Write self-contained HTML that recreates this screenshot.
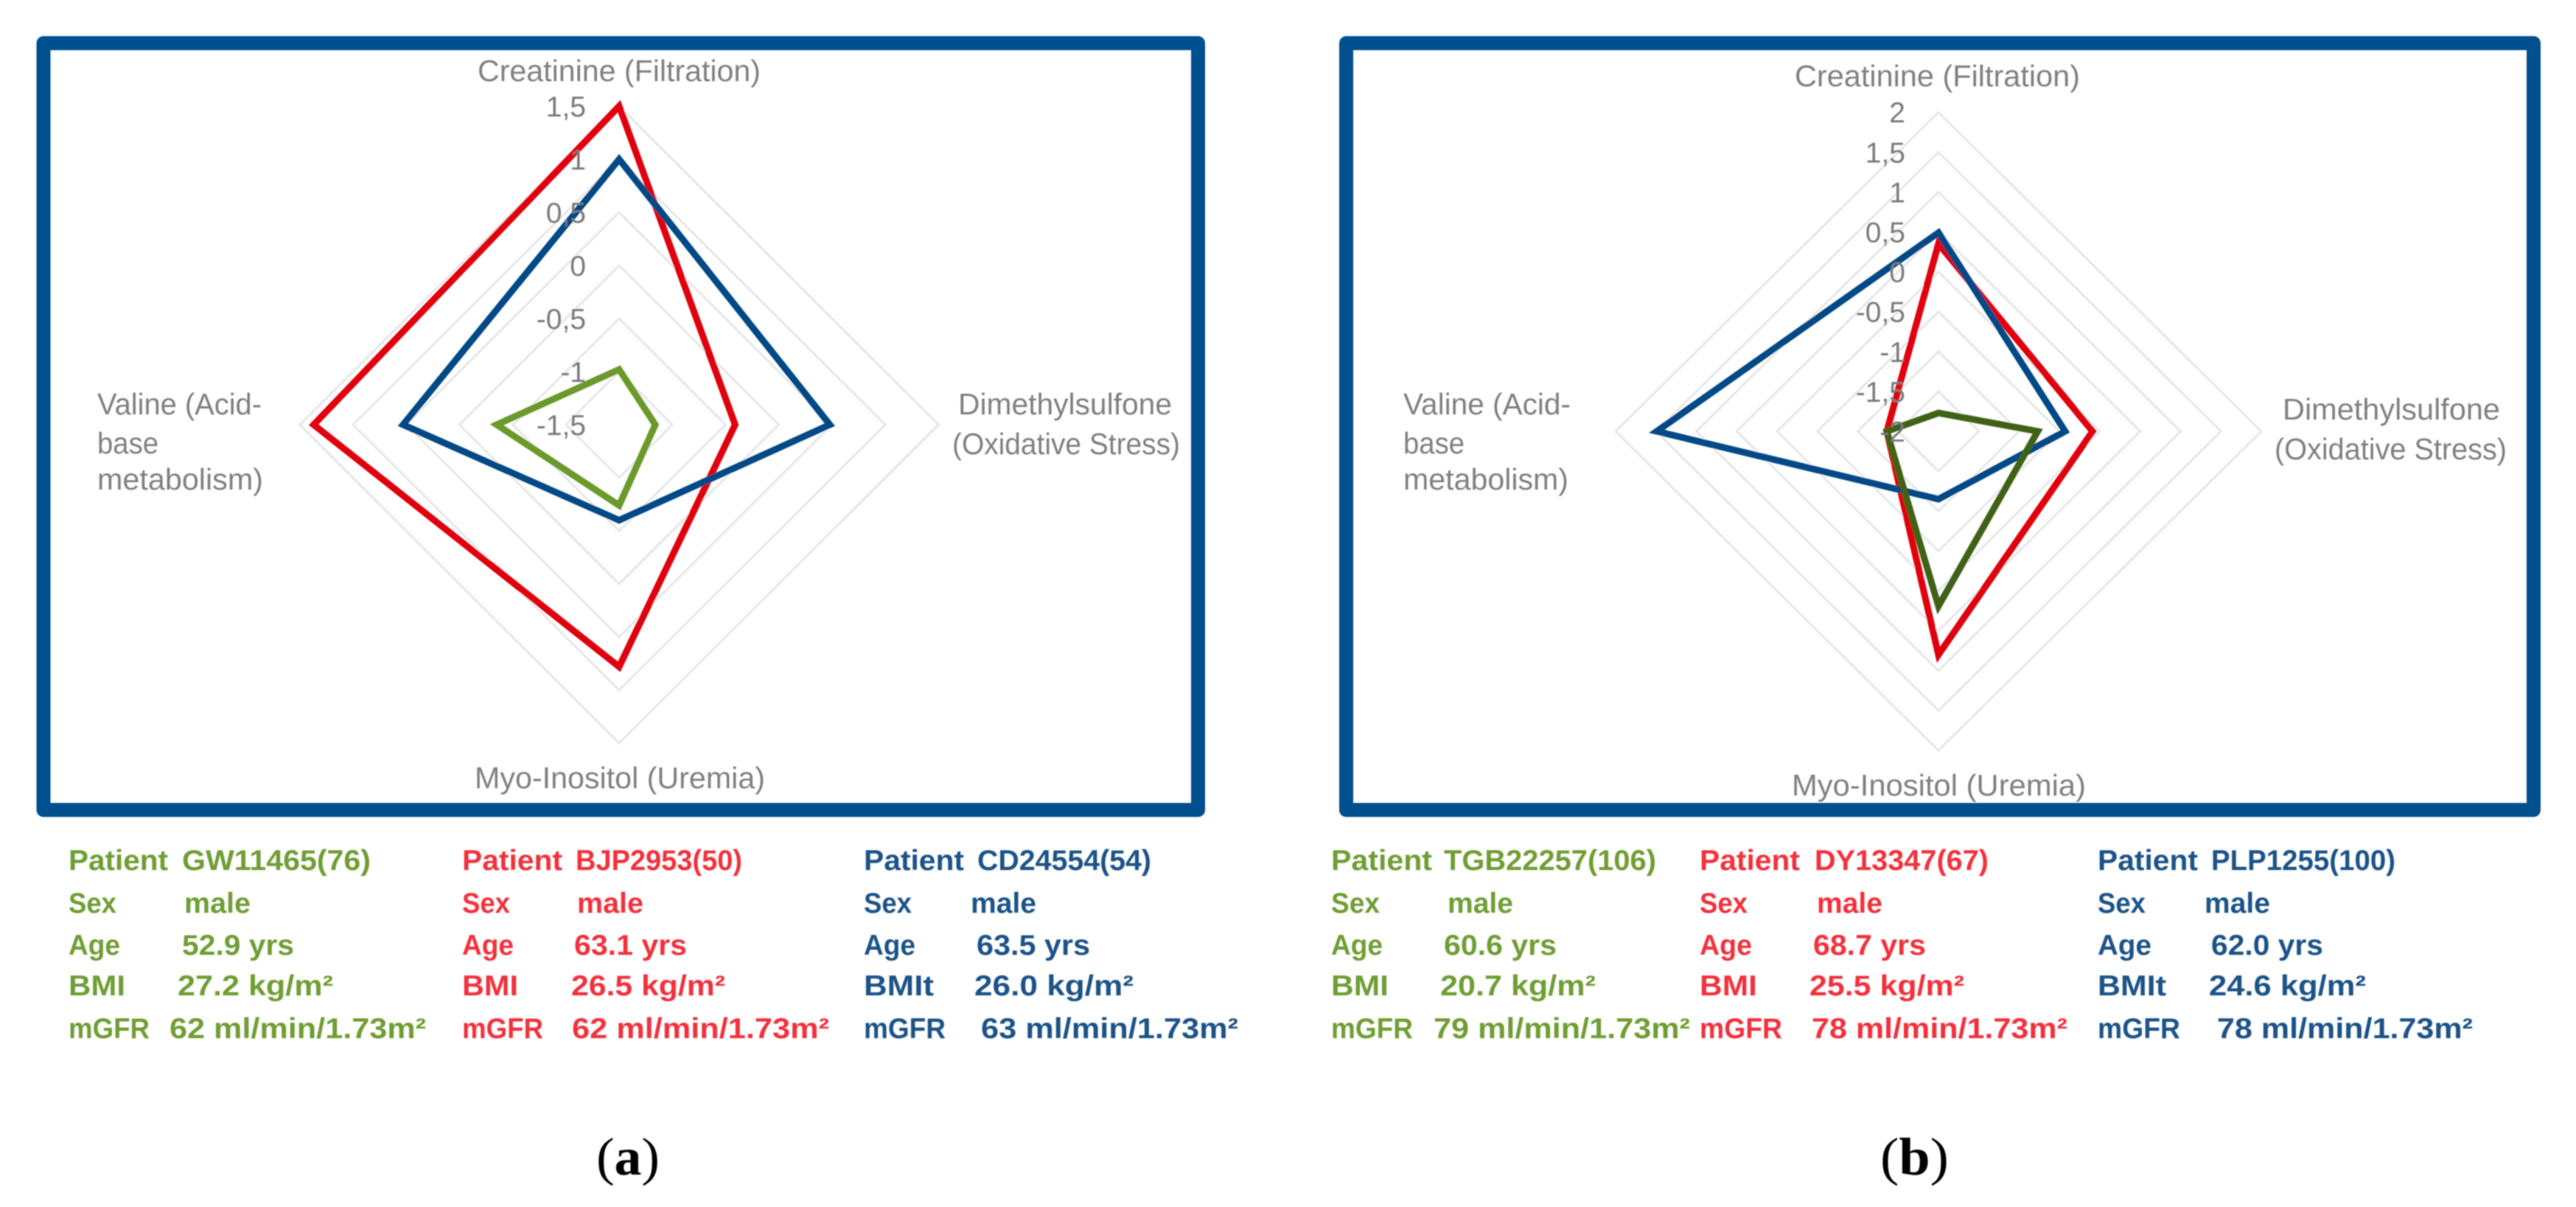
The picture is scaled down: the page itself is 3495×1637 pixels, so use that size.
<!DOCTYPE html>
<html lang="en">
<head>
<meta charset="utf-8">
<title>Radar charts of patient metabolite profiles</title>
<style>
html,body{margin:0;padding:0;background:#fff;width:3495px;height:1637px;overflow:hidden}
svg{display:block}
text{font-family:"Liberation Sans",sans-serif}
.ax{font-size:41px;fill:#808080}
.pt{font-size:39px;font-weight:700}
.g{fill:#6f9e34}.r{fill:#f2303c}.b{fill:#1c5288}
.cap{font-family:"Liberation Serif",serif;font-size:72px;fill:#000}
.cap tspan{font-family:"Liberation Serif",serif}
</style>
</head>
<body>
<svg id="fig" xmlns="http://www.w3.org/2000/svg" width="3495" height="1637" viewBox="0 0 3495 1637">
<defs><filter id="soft" filterUnits="userSpaceOnUse" x="0" y="0" width="3495" height="1637"><feGaussianBlur stdDeviation="0.9"/></filter></defs>
<g id="root" filter="url(#soft)">

<g>
<g id="plotA"></g>
<rect x="59" y="58.5" width="1566.5" height="1040" fill="none" stroke="#004f8e" stroke-width="19" stroke-linejoin="round"/>
<text class="ax" x="648" y="110" textLength="384" lengthAdjust="spacingAndGlyphs">Creatinine (Filtration)</text>
<text class="ax" x="644" y="1069" textLength="394" lengthAdjust="spacingAndGlyphs">Myo-Inositol (Uremia)</text>
<text class="ax" x="1300" y="562" textLength="290" lengthAdjust="spacingAndGlyphs">Dimethylsulfone</text>
<text class="ax" x="1292" y="616" textLength="309" lengthAdjust="spacingAndGlyphs">(Oxidative Stress)</text>
<text class="ax" x="132" y="562" textLength="223" lengthAdjust="spacingAndGlyphs">Valine (Acid-</text>
<text class="ax" x="132" y="615" textLength="83" lengthAdjust="spacingAndGlyphs">base</text>
<text class="ax" x="132" y="664" textLength="225" lengthAdjust="spacingAndGlyphs">metabolism)</text>

<g>
<text class="pt g" x="93" y="1180" textLength="135" lengthAdjust="spacingAndGlyphs">Patient</text>
<text class="pt g" x="247" y="1180" textLength="256" lengthAdjust="spacingAndGlyphs">GW11465(76)</text>
<text class="pt g" x="93" y="1238" textLength="65" lengthAdjust="spacingAndGlyphs">Sex</text>
<text class="pt g" x="250" y="1238" textLength="90" lengthAdjust="spacingAndGlyphs">male</text>
<text class="pt g" x="93" y="1295" textLength="70" lengthAdjust="spacingAndGlyphs">Age</text>
<text class="pt g" x="247" y="1295" textLength="152" lengthAdjust="spacingAndGlyphs">52.9 yrs</text>
<text class="pt g" x="93" y="1350" textLength="77" lengthAdjust="spacingAndGlyphs">BMI</text>
<text class="pt g" x="241" y="1350" textLength="211" lengthAdjust="spacingAndGlyphs">27.2 kg/m²</text>
<text class="pt g" x="93" y="1408" textLength="110" lengthAdjust="spacingAndGlyphs">mGFR</text>
<text class="pt g" x="230" y="1408" textLength="348" lengthAdjust="spacingAndGlyphs">62 ml/min/1.73m²</text>
</g>

<g>
<text class="pt r" x="627" y="1180" textLength="136" lengthAdjust="spacingAndGlyphs">Patient</text>
<text class="pt r" x="781" y="1180" textLength="226" lengthAdjust="spacingAndGlyphs">BJP2953(50)</text>
<text class="pt r" x="627" y="1238" textLength="65" lengthAdjust="spacingAndGlyphs">Sex</text>
<text class="pt r" x="783" y="1238" textLength="90" lengthAdjust="spacingAndGlyphs">male</text>
<text class="pt r" x="627" y="1295" textLength="70" lengthAdjust="spacingAndGlyphs">Age</text>
<text class="pt r" x="779" y="1295" textLength="153" lengthAdjust="spacingAndGlyphs">63.1 yrs</text>
<text class="pt r" x="627" y="1350" textLength="76" lengthAdjust="spacingAndGlyphs">BMI</text>
<text class="pt r" x="775" y="1350" textLength="209" lengthAdjust="spacingAndGlyphs">26.5 kg/m²</text>
<text class="pt r" x="627" y="1408" textLength="110" lengthAdjust="spacingAndGlyphs">mGFR</text>
<text class="pt r" x="776" y="1408" textLength="349" lengthAdjust="spacingAndGlyphs">62 ml/min/1.73m²</text>
</g>

<g>
<text class="pt b" x="1172" y="1180" textLength="136" lengthAdjust="spacingAndGlyphs">Patient</text>
<text class="pt b" x="1326" y="1180" textLength="236" lengthAdjust="spacingAndGlyphs">CD24554(54)</text>
<text class="pt b" x="1172" y="1238" textLength="65" lengthAdjust="spacingAndGlyphs">Sex</text>
<text class="pt b" x="1317" y="1238" textLength="89" lengthAdjust="spacingAndGlyphs">male</text>
<text class="pt b" x="1172" y="1295" textLength="70" lengthAdjust="spacingAndGlyphs">Age</text>
<text class="pt b" x="1325" y="1295" textLength="154" lengthAdjust="spacingAndGlyphs">63.5 yrs</text>
<text class="pt b" x="1172" y="1350" textLength="95" lengthAdjust="spacingAndGlyphs">BMIt</text>
<text class="pt b" x="1322" y="1350" textLength="216" lengthAdjust="spacingAndGlyphs">26.0 kg/m²</text>
<text class="pt b" x="1172" y="1408" textLength="111" lengthAdjust="spacingAndGlyphs">mGFR</text>
<text class="pt b" x="1331" y="1408" textLength="349" lengthAdjust="spacingAndGlyphs">63 ml/min/1.73m²</text>
</g>

<text class="cap" x="809" y="1593" textLength="86" lengthAdjust="spacingAndGlyphs">(<tspan font-weight="700">a</tspan>)</text>
</g>

<g>
<g id="plotB"></g>
<rect x="1826.5" y="58.5" width="1611" height="1040" fill="none" stroke="#004f8e" stroke-width="19" stroke-linejoin="round"/>
<text class="ax" x="2435" y="117" textLength="387" lengthAdjust="spacingAndGlyphs">Creatinine (Filtration)</text>
<text class="ax" x="2431" y="1079" textLength="399" lengthAdjust="spacingAndGlyphs">Myo-Inositol (Uremia)</text>
<text class="ax" x="3097" y="569" textLength="295" lengthAdjust="spacingAndGlyphs">Dimethylsulfone</text>
<text class="ax" x="3086" y="623" textLength="315" lengthAdjust="spacingAndGlyphs">(Oxidative Stress)</text>
<text class="ax" x="1904" y="562" textLength="227" lengthAdjust="spacingAndGlyphs">Valine (Acid-</text>
<text class="ax" x="1904" y="615" textLength="83" lengthAdjust="spacingAndGlyphs">base</text>
<text class="ax" x="1904" y="664" textLength="224" lengthAdjust="spacingAndGlyphs">metabolism)</text>

<g>
<text class="pt g" x="1806" y="1180" textLength="137" lengthAdjust="spacingAndGlyphs">Patient</text>
<text class="pt g" x="1959" y="1180" textLength="288" lengthAdjust="spacingAndGlyphs">TGB22257(106)</text>
<text class="pt g" x="1806" y="1238" textLength="66" lengthAdjust="spacingAndGlyphs">Sex</text>
<text class="pt g" x="1964" y="1238" textLength="89" lengthAdjust="spacingAndGlyphs">male</text>
<text class="pt g" x="1806" y="1295" textLength="70" lengthAdjust="spacingAndGlyphs">Age</text>
<text class="pt g" x="1959" y="1295" textLength="153" lengthAdjust="spacingAndGlyphs">60.6 yrs</text>
<text class="pt g" x="1806" y="1350" textLength="78" lengthAdjust="spacingAndGlyphs">BMI</text>
<text class="pt g" x="1954" y="1350" textLength="211" lengthAdjust="spacingAndGlyphs">20.7 kg/m²</text>
<text class="pt g" x="1806" y="1408" textLength="111" lengthAdjust="spacingAndGlyphs">mGFR</text>
<text class="pt g" x="1945" y="1408" textLength="348" lengthAdjust="spacingAndGlyphs">79 ml/min/1.73m²</text>
</g>

<g>
<text class="pt r" x="2306" y="1180" textLength="136" lengthAdjust="spacingAndGlyphs">Patient</text>
<text class="pt r" x="2462" y="1180" textLength="236" lengthAdjust="spacingAndGlyphs">DY13347(67)</text>
<text class="pt r" x="2306" y="1238" textLength="65" lengthAdjust="spacingAndGlyphs">Sex</text>
<text class="pt r" x="2465" y="1238" textLength="89" lengthAdjust="spacingAndGlyphs">male</text>
<text class="pt r" x="2306" y="1295" textLength="71" lengthAdjust="spacingAndGlyphs">Age</text>
<text class="pt r" x="2460" y="1295" textLength="153" lengthAdjust="spacingAndGlyphs">68.7 yrs</text>
<text class="pt r" x="2306" y="1350" textLength="78" lengthAdjust="spacingAndGlyphs">BMI</text>
<text class="pt r" x="2455" y="1350" textLength="210" lengthAdjust="spacingAndGlyphs">25.5 kg/m²</text>
<text class="pt r" x="2306" y="1408" textLength="112" lengthAdjust="spacingAndGlyphs">mGFR</text>
<text class="pt r" x="2458" y="1408" textLength="347" lengthAdjust="spacingAndGlyphs">78 ml/min/1.73m²</text>
</g>

<g>
<text class="pt b" x="2846" y="1180" textLength="136" lengthAdjust="spacingAndGlyphs">Patient</text>
<text class="pt b" x="3000" y="1180" textLength="250" lengthAdjust="spacingAndGlyphs">PLP1255(100)</text>
<text class="pt b" x="2846" y="1238" textLength="65" lengthAdjust="spacingAndGlyphs">Sex</text>
<text class="pt b" x="2991" y="1238" textLength="89" lengthAdjust="spacingAndGlyphs">male</text>
<text class="pt b" x="2846" y="1295" textLength="73" lengthAdjust="spacingAndGlyphs">Age</text>
<text class="pt b" x="3000" y="1295" textLength="152" lengthAdjust="spacingAndGlyphs">62.0 yrs</text>
<text class="pt b" x="2846" y="1350" textLength="93" lengthAdjust="spacingAndGlyphs">BMIt</text>
<text class="pt b" x="2997" y="1350" textLength="213" lengthAdjust="spacingAndGlyphs">24.6 kg/m²</text>
<text class="pt b" x="2846" y="1408" textLength="112" lengthAdjust="spacingAndGlyphs">mGFR</text>
<text class="pt b" x="3008" y="1408" textLength="347" lengthAdjust="spacingAndGlyphs">78 ml/min/1.73m²</text>
</g>

<text class="cap" x="2551" y="1593" textLength="93" lengthAdjust="spacingAndGlyphs">(<tspan font-weight="700">b</tspan>)</text>
</g>
</g>
</svg>
<script>
// Clockwise from the top: Creatinine, Dimethylsulfone, Myo-Inositol, Valine
const categories = ['creatinine', 'dimethylsulfone', 'myo-inositol', 'valine'];

const ticksA = [-1.5, -1, -0.5, 0, 0.5, 1, 1.5];
const gw11465 = [-0.98, -1.16, -0.74, -0.35];
const bjp2953 = [1.5, -0.41, 0.78, 1.37];
const cd24554 = [1.0, 0.48, -0.6, 0.53];

const ticksB = [-2, -1.5, -1, -0.5, 0, 0.5, 1, 1.5, 2];
const dy13347 = [0.35, -0.09, 0.8, -1.36];
const plp1255 = [0.49, -0.43, -1.15, 1.49];
const tgb22257 = [-1.77, -0.77, 0.19, -1.36];

const NS = 'http://www.w3.org/2000/svg';
const DIRS = [[0, -1], [1, 0], [0, 1], [-1, 0]];

function radarScale(ticks, stepX, stepY) {
  const min = ticks[0];
  return function (value) {
    const units = (value - min) / 0.5;
    return { rx: units * stepX, ry: units * stepY };
  };
}

function ringPoints(values, scale, cx, cy) {
  return values.map(function (v, i) {
    const r = scale(v);
    return (cx + DIRS[i][0] * r.rx).toFixed(1) + ',' + (cy + DIRS[i][1] * r.ry).toFixed(1);
  }).join(' ');
}

function drawGrid(host, ticks, scale, cx, cy) {
  ticks.forEach(function (t) {
    if (t === ticks[0]) return;
    const ring = document.createElementNS(NS, 'polygon');
    
    
    ring.setAttribute('points', ringPoints(categories.map(function () { return t; }), scale, cx, cy));
    ring.setAttribute('fill', 'none');
    ring.setAttribute('stroke', '#e7e7e7');
    ring.setAttribute('stroke-width', '3');
    host.appendChild(ring);
  });
}

function drawSeries(host, values, scale, cx, cy, color, name) {
  const line = document.createElementNS(NS, 'polygon');
  
  
  line.setAttribute('points', ringPoints(values, scale, cx, cy));
  line.setAttribute('fill', 'none');
  line.setAttribute('stroke', color);
  line.setAttribute('stroke-width', '9');
  line.setAttribute('stroke-linejoin', 'miter');
  host.appendChild(line);
}

function drawTicks(host, ticks, scale, cy, rightX) {
  ticks.forEach(function (t) {
    const label = document.createElementNS(NS, 'text');
    
    
    label.setAttribute('x', rightX);
    label.setAttribute('y', (cy - scale(t).ry + 14).toFixed(1));
    label.setAttribute('text-anchor', 'end');
    label.setAttribute('font-size', '39');
    label.setAttribute('fill', '#7a7a7a');
    label.textContent = String(t).replace('.', ',');
    host.appendChild(label);
  });
}

const plotA = document.getElementById('plotA');
const scaleA = radarScale(ticksA, 72.2, 72);
drawGrid(plotA, ticksA, scaleA, 840, 576);
drawSeries(plotA, gw11465, scaleA, 840, 576, '#6b9a2c', 'series-gw11465');
drawSeries(plotA, bjp2953, scaleA, 840, 576, '#e0000e', 'series-bjp2953');
drawSeries(plotA, cd24554, scaleA, 840, 576, '#004a86', 'series-cd24554');
drawTicks(plotA, ticksA, scaleA, 576, 795);

const plotB = document.getElementById('plotB');
const scaleB = radarScale(ticksB, 54.75, 54.1);
drawGrid(plotB, ticksB, scaleB, 2630, 585);
drawSeries(plotB, dy13347, scaleB, 2630, 585, '#e0000e', 'series-dy13347');
drawSeries(plotB, plp1255, scaleB, 2630, 585, '#004a86', 'series-plp1255');
drawSeries(plotB, tgb22257, scaleB, 2630, 585, '#3f6212', 'series-tgb22257');
drawTicks(plotB, ticksB, scaleB, 585, 2585);
</script>
</body>
</html>
